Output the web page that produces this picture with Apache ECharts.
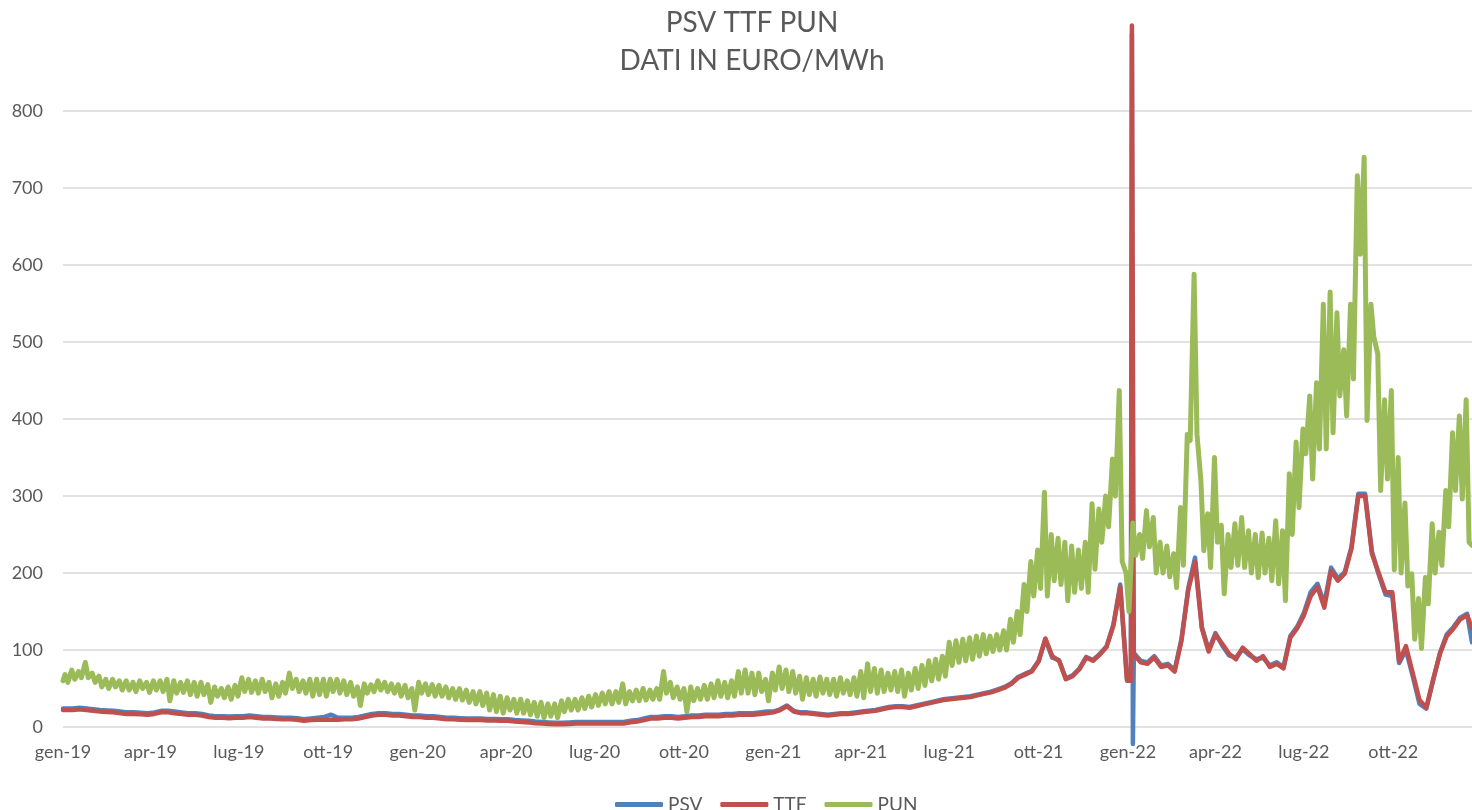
<!DOCTYPE html>
<html>
<head>
<meta charset="utf-8">
<title>PSV TTF PUN</title>
<script src="https://cdn.jsdelivr.net/npm/echarts@6/dist/echarts.min.js"></script>
<style>
  html, body { margin: 0; padding: 0; background: #fff; }
  #chart { width: 1472px; height: 810px; }
</style>
</head>
<body>
<div id="chart"></div>
<script>
// one value per week, weeks counted from 2019-01-01 (13 weeks per quarter)
const monthNames = ['gen', 'feb', 'mar', 'apr', 'mag', 'giu', 'lug', 'ago', 'set', 'ott', 'nov', 'dic'];

const ttf = [
  22, 22, 23, 22, 21, 20, 19.5, 19, 18, 17, 17, 16.5, 16,
  17, 19, 19, 18, 17, 16, 16, 15, 13, 12, 12, 11.5, 12,
  12, 13, 12, 11, 11, 10.5, 10, 10, 9.5, 8, 9, 9.5, 9.5,
  9.5, 9.5, 10, 10, 11, 13, 15, 16, 16, 15, 15, 14, 13,
  13, 12, 12, 11, 10, 10, 9.5, 9, 9, 9, 8.5, 8.5, 8,
  8, 7, 6.5, 6, 5, 4.5, 4, 3.5, 3.5, 4, 4.5, 4.5, 4.5,
  4.5, 4.5, 4.5, 4.5, 4.5, 6, 7, 9, 11, 11, 12, 12, 11,
  12, 13, 13, 14, 14, 14, 15, 15, 16, 16, 16, 17, 18,
  19, 22, 27, 20, 18, 18, 17, 16, 15, 16, 17, 17, 18,
  19, 20, 21, 23, 25, 26, 26, 25, 27, 29, 31, 33, 35,
  36, 37, 38, 39, 41, 43, 45, 48, 51, 56, 64, 68, 72,
  85, 115, 92, 86, 62, 66, 75, 90, 86, 94, 104, 132, 182,
  60, 94, 84, 82, 90, 78, 80, 72, 112, 178, 214, 128, 98,
  120, 108, 95, 88, 103, 95, 86, 92, 78, 82, 76, 116, 128,
  145, 170, 182, 155, 203, 190, 199, 232, 300, 300, 225, 200, 175,
  175, 85, 105, 70, 35, 25, 62, 95, 118, 128, 140, 145
];

const psv = [
  24, 24, 25, 24, 23, 22, 21.5, 21, 20, 19, 19, 18.5, 18,
  19, 21, 21, 20, 19, 18, 18, 17, 15, 14, 14, 13.5, 14,
  14, 15, 14, 13, 13, 12.5, 12, 12, 11.5, 10, 11, 12, 13,
  16, 12, 12, 12, 13, 15, 17, 18, 18, 17, 17, 16, 15,
  15, 14, 14, 13, 12, 12, 11.5, 11, 11, 11, 10.5, 10.5, 10,
  10, 9, 8.5, 8, 7, 6.5, 6, 5.5, 5.5, 6, 6.5, 6.5, 6.5,
  6.5, 6.5, 6.5, 6.5, 6.5, 8, 9, 11, 13, 13, 14, 14, 13,
  14, 15, 15, 16, 16, 16, 17, 17, 18, 18, 18, 19, 20,
  20, 23, 28, 21, 19, 19, 18, 17, 16, 17, 18, 18, 19,
  20, 21, 22, 24, 26, 27, 27, 26, 28, 30, 32, 34, 36,
  37, 38, 39, 40, 42, 44, 46, 49, 52, 57, 65, 69, 73,
  86, 114, 90, 87, 63, 67, 76, 91, 87, 95, 105, 133, 185,
  62, 96, 86, 84, 92, 80, 82, 74, 114, 180, 220, 130, 100,
  122, 106, 93, 90, 101, 93, 88, 90, 80, 84, 78, 118, 130,
  148, 175, 186, 160, 207, 193, 201, 234, 303, 303, 228, 198, 172,
  170, 83, 100, 66, 30, 24, 60, 96, 120, 130, 142, 147
];

// PUN: weekday level and weekend level of each week
const punHigh = [
  68, 74, 72, 84, 70, 66, 62, 62, 60, 60, 58, 60, 58,
  60, 60, 62, 60, 58, 60, 58, 58, 55, 52, 50, 52, 54,
  64, 62, 60, 62, 58, 56, 58, 70, 62, 60, 62, 62, 62,
  62, 62, 60, 58, 52, 56, 55, 60, 58, 56, 55, 54, 50,
  58, 56, 55, 54, 52, 50, 50, 48, 46, 46, 44, 42, 40,
  38, 36, 36, 34, 32, 32, 30, 30, 34, 36, 36, 38, 40,
  42, 44, 46, 46, 56, 46, 48, 50, 48, 50, 72, 58, 52,
  50, 52, 50, 54, 56, 60, 58, 60, 72, 74, 70, 70, 62,
  70, 78, 74, 72, 66, 64, 62, 65, 62, 62, 64, 60, 64,
  72, 82, 76, 74, 70, 72, 74, 70, 76, 80, 86, 88, 92,
  110, 112, 114, 116, 118, 120, 118, 120, 125, 140, 150, 185, 215,
  230, 305, 250, 245, 240, 235, 230, 240, 290, 283, 300, 348, 437,
  200, 265, 250, 281, 272, 240, 235, 225, 285, 380, 588, 320, 277,
  350, 262, 250, 264, 272, 255, 250, 252, 245, 268, 255, 329, 370,
  387, 430, 447, 549, 565, 538, 490, 549, 716, 740, 549, 485, 425,
  437, 350, 291, 199, 167, 194, 264, 253, 307, 382, 404, 425
];

const punLow = [
  58, 62, 64, 64, 58, 52, 50, 52, 48, 48, 46, 50, 45,
  48, 46, 34, 44, 45, 42, 40, 42, 32, 40, 38, 36, 40,
  46, 45, 44, 46, 38, 40, 44, 50, 46, 44, 40, 42, 40,
  46, 44, 42, 40, 28, 44, 46, 48, 46, 44, 40, 38, 22,
  44, 42, 40, 40, 38, 36, 35, 32, 30, 28, 22, 20, 18,
  22, 18, 18, 16, 14, 12, 14, 12, 20, 22, 22, 24, 26,
  28, 30, 30, 32, 30, 34, 34, 35, 36, 36, 44, 38, 36,
  20, 34, 36, 36, 38, 40, 38, 40, 44, 44, 42, 46, 34,
  48, 50, 46, 44, 36, 42, 40, 44, 42, 40, 44, 42, 40,
  38, 46, 44, 46, 48, 46, 40, 48, 50, 54, 60, 62, 66,
  80, 84, 86, 88, 92, 95, 98, 100, 100, 110, 120, 150, 170,
  180, 170, 190, 185, 164, 175, 180, 175, 205, 240, 260, 300, 215,
  150, 223, 219, 234, 200, 200, 195, 181, 210, 372, 380, 229, 207,
  240, 173, 207, 210, 207, 200, 194, 200, 190, 186, 164, 250, 285,
  355, 322, 361, 361, 382, 430, 404, 452, 614, 398, 506, 307, 322,
  204, 200, 183, 114, 102, 160, 200, 210, 260, 307, 296, 240
];

// single days that do not fall on the weekly samples
const ttfExtra = [['2019-01-01', 22], ['2022-01-04', 60], ['2022-01-05', 911], ['2022-12-21', 128]];
const psvExtra = [['2019-01-01', 24], ['2022-01-04', 62], ['2022-01-05', 900], ['2022-01-06', -22], ['2022-12-21', 110]];
const punExtra = [['2019-01-01', 60], ['2022-12-21', 236]];

// daily categories for the x axis
const days = [];
for (let t = Date.UTC(2019, 0, 1); t <= Date.UTC(2022, 11, 21); t += 86400000) {
  days.push(new Date(t).toISOString().slice(0, 10));
}

function weekly(values, dayOffset) {
  return values.map((v, i) => [7 * i + dayOffset, v]);
}
function withExtra(points, extra) {
  return points.concat(extra.map(p => [days.indexOf(p[0]), p[1]]))
    .sort((a, b) => a[0] - b[0]);
}

const psvData = withExtra(weekly(psv, 3), psvExtra);
const ttfData = withExtra(weekly(ttf, 3), ttfExtra);
const punData = withExtra(weekly(punHigh, 2).concat(weekly(punLow, 5)), punExtra);

const textColor = '#595959';
const font = 'Lato';

const chart = echarts.init(document.getElementById('chart'));
chart.setOption({
  animation: false,
  backgroundColor: '#fff',
  title: {
    text: 'PSV TTF PUN\nDATI IN EURO/MWh',
    left: 752,
    top: 4,
    padding: 0,
    textAlign: 'center',
    textStyle: { color: textColor, fontSize: 28, fontWeight: 'normal', fontFamily: font, lineHeight: 38 }
  },
  legend: {
    data: ['PSV', 'TTF', 'PUN'],
    left: 610,
    top: 790,
    icon: 'roundRect',
    itemWidth: 48,
    itemHeight: 5,
    itemGap: 18,
    textStyle: { color: textColor, fontSize: 19, fontFamily: font }
  },
  grid: { left: 63, right: 0, top: 111, bottom: 83, outerBoundsMode: 'none' },
  xAxis: {
    type: 'category',
    data: days,
    boundaryGap: false,
    axisLine: { show: false },
    axisTick: { show: false },
    splitLine: { show: false },
    axisLabel: {
      interval: (i, v) => v.slice(8) === '01' && (Number(v.slice(5, 7)) - 1) % 3 === 0,
      formatter: v => monthNames[Number(v.slice(5, 7)) - 1] + '-' + v.slice(2, 4),
      color: textColor,
      fontSize: 18,
      fontFamily: font,
      margin: 16
    }
  },
  yAxis: {
    type: 'value',
    min: 0,
    max: 800,
    interval: 100,
    axisLine: { show: false },
    axisTick: { show: false },
    splitLine: { lineStyle: { color: '#d9d9d9', width: 1.5 } },
    axisLabel: { color: textColor, fontSize: 18, fontFamily: font, margin: 20 }
  },
  series: [
    {
      name: 'PSV', type: 'line', data: psvData, symbol: 'none', clip: false,
      itemStyle: { color: '#4F81BD' },
      lineStyle: { color: '#4F81BD', width: 4.5, cap: 'round', join: 'round' }
    },
    {
      name: 'TTF', type: 'line', data: ttfData, symbol: 'none', clip: false,
      itemStyle: { color: '#C0504D' },
      lineStyle: { color: '#C0504D', width: 4.5, cap: 'round', join: 'round' }
    },
    {
      name: 'PUN', type: 'line', data: punData, symbol: 'none', clip: false,
      itemStyle: { color: '#9BBB59' },
      lineStyle: { color: '#9BBB59', width: 5, cap: 'round', join: 'round' }
    }
  ]
});
</script>
</body>
</html>
